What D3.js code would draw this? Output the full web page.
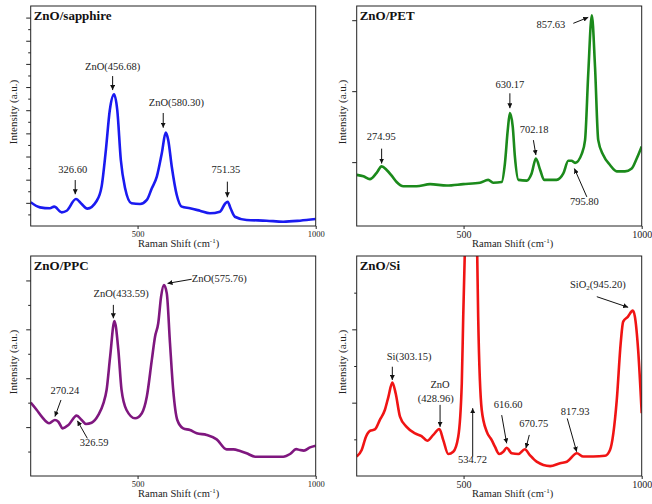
<!DOCTYPE html>
<html>
<head>
<meta charset="utf-8">
<script src="https://cdn.jsdelivr.net/npm/d3@7"></script>
<style>
  body { margin: 0; background: #fff; }
  svg { display: block; }
  svg text { font-family: "Liberation Serif", "Times New Roman", serif; }
</style>
</head>
<body>
<div id="chart"></div>
<script>
// Raman shift (cm-1) / intensity (a.u.)
const SAPPHIRE_SHIFT = [200,226,254,266,287,301,327,343,359,385,399,411,422,434,443,453,465,483,507,526,540,554,568,579,586,596,610,624,647,675,703,731,745,753,761,773,806,862,909,956,1000];
const SAPPHIRE_INT = [2.05,1.61,1.53,1.67,1.18,1.32,2.33,1.9,1.5,2.16,3.4,6.56,10.0,11.37,10.0,5.7,3.26,1.96,1.9,2.25,3.26,4.26,6.28,8.06,7.43,5.12,2.68,1.67,1.53,1.32,1.1,1.24,1.9,2.1,1.53,0.8,0.52,0.46,0.37,0.46,0.6];

const PET_SHIFT = [200,219,237,256,270,284,298,312,331,368,406,453,499,546,569,583,607,616,624,630,638,644,654,677,691,703,715,726,761,780,794,803,813,832,841,850,860,869,878,892,911,930,953,972,986,1000];
const PET_INT = [0.72,0.70,0.66,0.75,0.84,0.79,0.71,0.62,0.56,0.56,0.59,0.57,0.59,0.61,0.65,0.61,0.62,0.88,1.35,1.59,1.40,0.98,0.65,0.64,0.74,0.95,0.79,0.65,0.65,0.74,0.92,0.92,0.89,1.02,1.21,2.15,2.97,2.24,1.21,1.0,0.86,0.77,0.77,0.81,0.95,1.12];

const PPC_SHIFT = [200,217,231,252,268,277.5,290,306,329,343,355,371,390,404,413,423,435,446,455,469,493,512,526,540,549,558,566,574,582,591,600,611.5,628,647,666,694,722,750,769,788,806,830,862,909,928,945,956,967,984,1000];
const PPC_INT = [3.0,2.7,2.43,2.16,2.29,2.22,1.95,2.09,2.47,2.29,2.13,2.18,2.5,2.97,3.52,4.88,6.34,5.16,3.52,2.7,2.36,2.57,3.25,4.75,5.7,6.25,7.34,7.81,7.47,5.43,3.52,2.29,1.95,1.88,1.75,1.68,1.5,1.09,1.09,1.02,0.93,0.79,0.79,0.79,0.9,1.1,1.06,1.04,1.17,1.24];

const SI_SHIFT = [200,214,226,237,251,265,279,289,300,309.5,321.5,340,364,382,398,415,432,443,457,471,485,495,499,504,512,522,532,538,541,551,565,579,588,600,611.5,621,635,654,672,686,705,743,771,790,818,836,864,897,911,930,941,948,961,975,981,990,1000];
const SI_INT = [0.53,0.71,1.07,1.23,1.27,1.53,1.8,2.16,2.55,2.25,1.62,1.34,1.16,1.09,0.96,1.12,1.28,0.98,0.6,0.66,1.07,2.53,4.34,6.3,8.5,9.5,8.5,6.2,4.34,1.8,1.21,0.98,0.8,0.6,0.66,0.77,0.62,0.6,0.73,0.57,0.39,0.27,0.35,0.39,0.62,0.53,0.53,0.55,0.71,2.07,3.62,4.21,4.34,4.51,4.34,3.44,1.71];

const X_DOMAIN = [200, 1000];
const X_TICKS = [500, 1000];

const SAPPHIRE_Y_TICKS = d3.range(1, 19);
const PET_Y_TICKS = [0.9, 1.9, 2.9];
const PPC_Y_TICKS = d3.range(1, 9);
const SI_Y_TICKS = d3.range(1, 6);

// peak labels: text anchor point and arrow (from -> to), all in data units
const SAPPHIRE_NOTES = [
  { text: 'ZnO(456.68)', x: 430, y: 13.47, from: [430, 12.95], to: [430, 11.74] },
  { text: 'ZnO(580.30)', x: 609, y: 10.36, from: [572, 9.76], to: [572, 8.49] },
  { text: '326.60', x: 318, y: 4.58, from: [325, 3.97], to: [325, 2.74] },
  { text: '751.35', x: 748, y: 4.58, from: [752, 3.83], to: [752, 2.48] },
];
const PET_NOTES = [
  { text: '857.63', x: 745, y: 2.79, from: [808, 2.856], to: [850, 2.94] },
  { text: '630.17', x: 630, y: 1.94, from: [630, 1.87], to: [630, 1.66] },
  { text: '702.18', x: 698, y: 1.31, from: [696, 1.21], to: [703, 1.0] },
  { text: '274.95', x: 269, y: 1.21, from: [270, 1.09], to: [270, 0.88] },
  { text: '795.80', x: 839, y: 0.30, from: [846, 0.41], to: [811, 0.81] },
];
const PPC_NOTES = [
  { text: 'ZnO(433.59)', x: 454, y: 7.34, from: [432, 7.0], to: [432, 6.45] },
  { text: 'ZnO(575.76)', x: 652, y: 7.95, anchor: 'start', from: [652, 8.05], to: [584, 7.88] },
  { text: '270.24', x: 296, y: 3.36, from: [285, 3.11], to: [268, 2.43] },
  { text: '326.59', x: 378, y: 1.24, from: [359, 1.54], to: [331, 2.26] },
];
const SI_NOTES = [
  { text: 'Si(303.15)', x: 347, y: 3.16, from: [300, 2.98], to: [300, 2.62] },
  { text: 'ZnO', x: 434, y: 2.39 },
  { text: '(428.96)', x: 422, y: 2.03, from: [434, 1.94], to: [434, 1.34] },
  { text: '534.72', x: 525, y: 0.35, from: [525.6, 0.53], to: [525.6, 1.85] },
  { text: '616.60', x: 625, y: 1.85, from: [607, 1.66], to: [621, 0.89] },
  { text: '670.75', x: 697, y: 1.34, from: [684.5, 1.12], to: [675, 0.76] },
  { text: '817.93', x: 813, y: 1.66, from: [791, 1.57], to: [817.5, 0.66] },
  { text: 'SiO|2|(945.20)', x: 877, y: 5.14, from: [874, 4.89], to: [962, 4.60] },
];

const WIDTH = 652, HEIGHT = 504;
const PW = 285, PH = 220;
const SERIF = '"Liberation Serif", "Times New Roman", serif';

const PANELS = [
  { title: 'ZnO/sapphire', shift: SAPPHIRE_SHIFT, inten: SAPPHIRE_INT, yMax: 19, yTicks: SAPPHIRE_Y_TICKS,
    notes: SAPPHIRE_NOTES, color: '#1a1af0', left: 30.7, top: 6, tickFont: 8.5, ylabX: 17 },
  { title: 'ZnO/PET', shift: PET_SHIFT, inten: PET_INT, yMax: 3.1, yTicks: PET_Y_TICKS,
    notes: PET_NOTES, color: '#1b8a1b', left: 356.7, top: 6, tickFont: 10, ylabX: 345.5, noMinor: true },
  { title: 'ZnO/PPC', shift: PPC_SHIFT, inten: PPC_INT, yMax: 9, yTicks: PPC_Y_TICKS,
    notes: PPC_NOTES, color: '#7f177f', left: 30.7, top: 256, tickFont: 8.5, ylabX: 17 },
  { title: 'ZnO/Si', shift: SI_SHIFT, inten: SI_INT, yMax: 6, yTicks: SI_Y_TICKS,
    notes: SI_NOTES, color: '#f01414', left: 356.7, top: 256, tickFont: 10, ylabX: 345.5 },
];

const svg = d3.select('#chart').append('svg')
  .attr('width', WIDTH).attr('height', HEIGHT);

svg.append('defs').append('marker')
  .attr('id', 'arrowhead')
  .attr('viewBox', '0 0 10 10')
  .attr('refX', 10).attr('refY', 5)
  .attr('markerWidth', 5).attr('markerHeight', 5)
  .attr('markerUnits', 'userSpaceOnUse')
  .attr('orient', 'auto')
  .append('path')
  .attr('d', 'M0,0 L10,5 L0,10 Z')
  .attr('fill', '#111');

PANELS.forEach((p, i) => drawPanel(p, i));

function drawPanel(p, idx) {
  const x = d3.scaleLinear().domain(X_DOMAIN).range([0, PW]);
  const y = d3.scaleLinear().domain([0, p.yMax]).range([PH, 0]);

  const g = svg.append('g').attr('transform', `translate(${p.left},${p.top})`);

  g.append('clipPath').attr('id', 'clip' + idx)
    .append('rect').attr('width', PW).attr('height', PH);

  // y ticks (no labels), majors longer than minors
  const majors = p.noMinor ? p.yTicks : p.yTicks.filter(v => v % 2 === 0);
  const minors = p.noMinor ? [] : p.yTicks.filter(v => v % 2 !== 0);
  [[majors, 4.5], [minors, 2.5]].forEach(([vals, len]) => {
    const ax = g.append('g')
      .call(d3.axisLeft(y).tickValues(vals).tickSize(len).tickFormat(''));
    ax.select('.domain').remove();
    ax.selectAll('line').attr('stroke', '#222');
  });

  // x axis
  const xa = g.append('g')
    .attr('transform', `translate(0,${PH})`)
    .call(d3.axisBottom(x).tickValues(X_TICKS).tickSize(3).tickFormat(d3.format('d')));
  xa.select('.domain').remove();
  xa.selectAll('line').attr('stroke', '#222');
  xa.selectAll('text')
    .style('font-family', SERIF)
    .style('font-size', p.tickFont + 'px')
    .attr('fill', '#222')
    .attr('y', 5);

  // spectrum
  const pts = p.shift.map((s, k) => [s, p.inten[k]]);
  g.append('path')
    .datum(pts)
    .attr('clip-path', `url(#clip${idx})`)
    .attr('fill', 'none')
    .attr('stroke', p.color)
    .attr('stroke-width', 2.6)
    .attr('stroke-linejoin', 'round')
    .attr('d', d3.line().x(d => x(d[0])).y(d => y(d[1])).curve(d3.curveMonotoneX));

  // frame
  g.append('rect')
    .attr('width', PW).attr('height', PH)
    .attr('fill', 'none').attr('stroke', '#222').attr('stroke-width', 1);

  // title
  g.append('text')
    .attr('x', 3).attr('y', 13.5)
    .style('font-family', SERIF)
    .style('font-size', '13px').style('font-weight', 'bold')
    .attr('fill', '#111')
    .text(p.title);

  // axis titles
  svg.append('text')
    .attr('transform', `translate(${p.ylabX},${p.top + PH / 2 - 4}) rotate(-90)`)
    .attr('text-anchor', 'middle')
    .style('font-family', SERIF)
    .style('font-size', '11px')
    .attr('fill', '#222')
    .text('Intensity (a.u.)');

  const xl = g.append('text')
    .attr('x', x(500) + (p.left > 300 ? 8.5 : 0.5))
    .attr('y', PH + 20.5)
    .style('font-family', SERIF)
    .style('font-size', '10.5px')
    .attr('fill', '#222');
  xl.append('tspan').text('Raman Shift (cm');
  xl.append('tspan').attr('dy', -4).style('font-size', '7px').text('-1');
  xl.append('tspan').attr('dy', 4).text(')');

  // peak annotations
  p.notes.forEach(n => {
    const t = g.append('text')
      .attr('x', x(n.x)).attr('y', y(n.y))
      .attr('text-anchor', n.anchor || 'middle')
      .style('font-family', SERIF)
      .style('font-size', '10.5px')
      .attr('fill', '#222');
    const parts = n.text.split('|');
    if (parts.length === 3) {
      t.append('tspan').text(parts[0]);
      t.append('tspan').attr('dy', 2.5).style('font-size', '7px').text(parts[1]);
      t.append('tspan').attr('dy', -2.5).text(parts[2]);
    } else {
      t.text(n.text);
    }
    if (n.from) {
      g.append('line')
        .attr('x1', x(n.from[0])).attr('y1', y(n.from[1]))
        .attr('x2', x(n.to[0])).attr('y2', y(n.to[1]))
        .attr('stroke', '#111').attr('stroke-width', 1)
        .attr('marker-end', 'url(#arrowhead)');
    }
  });
}
</script>
</body>
</html>
